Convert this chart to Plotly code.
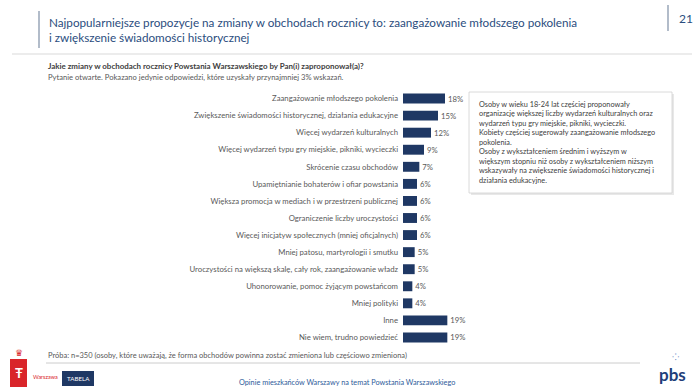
import plotly.graph_objects as go

categories = [
    "Zaangażowanie młodszego pokolenia",
    "Zwiększenie świadomości historycznej, działania edukacyjne",
    "Więcej wydarzeń kulturalnych",
    "Więcej wydarzeń typu gry miejskie, pikniki, wycieczki",
    "Skrócenie czasu obchodów",
    "Upamiętnianie bohaterów i ofiar powstania",
    "Większa promocja w mediach i w przestrzeni publicznej",
    "Ograniczenie liczby uroczystości",
    "Więcej inicjatyw społecznych (mniej oficjalnych)",
    "Mniej patosu, martyrologii i smutku",
    "Uroczystości na większą skalę, cały rok, zaangażowanie władz",
    "Uhonorowanie, pomoc żyjącym powstańcom",
    "Mniej polityki",
    "Inne",
    "Nie wiem, trudno powiedzieć",
]
values = [18, 15, 12, 9, 7, 6, 6, 6, 6, 5, 5, 4, 4, 19, 19]

title_text = ("Najpopularniejsze propozycje na zmiany w obchodach rocznicy to: zaangażowanie młodszego pokolenia"
              "<br>i zwiększenie świadomości historycznej")
question = "Jakie zmiany w obchodach rocznicy Powstania Warszawskiego by Pan(i) zaproponował(a)?"
note = "Pytanie otwarte. Pokazano jedynie odpowiedzi, które uzyskały przynajmniej 3% wskazań."
box_text = ("Osoby w wieku 18-24 lat częściej proponowały<br>"
            "organizację większej liczby wydarzeń kulturalnych oraz<br>"
            "wydarzeń typu gry miejskie, pikniki, wycieczki.<br>"
            "Kobiety częściej sugerowały zaangażowanie młodszego<br>"
            "pokolenia.<br>"
            "Osoby z wykształceniem średnim i wyższym w<br>"
            "większym stopniu niż osoby z wykształceniem niższym<br>"
            "wskazywały na zwiększenie świadomości historycznej i<br>"
            "działania edukacyjne.")
sample = "Próba: n=350 (osoby, które uważają, że forma obchodów powinna zostać zmieniona lub częściowo zmieniona)"
footer = "Opinie mieszkańców Warszawy na temat Powstania Warszawskiego"
page_no = "21"

W_TOT, H_TOT = 700, 391
L, R, T, B = 403, 227, 90, 45
PW = W_TOT - L - R
PH = H_TOT - T - B

def px(x):
    return (x - L) / PW

def py(y):
    return (H_TOT - B - y) / PH

FONT = "Lato, 'Open Sans', sans-serif"
NAVY = "#1f3864"
GRAY = "#595959"
TITLE_C = "#2b4d7e"

fig = go.Figure(go.Bar(
    x=values, y=categories, orientation="h",
    marker=dict(color=NAVY, line=dict(width=0)),
    width=0.58,
    text=[f"{v}%" for v in values], textposition="outside",
    textfont=dict(family=FONT, size=7.8, color=GRAY),
    cliponaxis=False, hoverinfo="skip",
))

fig.update_xaxes(range=[0, 30], visible=False, fixedrange=True)
fig.update_yaxes(autorange="reversed", showgrid=False, showline=False, zeroline=False,
                 ticks="", ticklabelstandoff=4, fixedrange=True,
                 tickfont=dict(family=FONT, size=7.75, color=GRAY))

ann = []
shapes = []

def text(x, y, s, size, color, bold=False, xanchor="left", yanchor="middle", align="left"):
    if bold:
        s = f"<b>{s}</b>"
    ann.append(dict(x=px(x), y=py(y), xref="paper", yref="paper", text=s, showarrow=False,
                    xanchor=xanchor, yanchor=yanchor, align=align,
                    font=dict(family=FONT, size=size, color=color)))

def rect(x0, y0, x1, y1, fill=None, line=None, lw=1):
    shapes.append(dict(type="rect", xref="paper", yref="paper",
                       x0=px(x0), x1=px(x1), y0=py(y0), y1=py(y1),
                       fillcolor=fill if fill else "rgba(0,0,0,0)",
                       line=dict(color=line if line else "rgba(0,0,0,0)", width=lw if line else 0)))

def line(x0, y0, x1, y1, color, w=1):
    shapes.append(dict(type="line", xref="paper", yref="paper",
                       x0=px(x0), x1=px(x1), y0=py(y0), y1=py(y1),
                       line=dict(color=color, width=w)))

# header
line(39, 11, 39, 48, "#7f8fa6", 1.2)
text(47, 29, title_text, 11.7, TITLE_C, yanchor="middle")
line(668, 5, 668, 31, "#7f8fa6", 1.2)
text(677, 18, page_no, 12, TITLE_C)
line(12, 54, 692, 54, "#d9d9d9", 1)
text(46, 66, question, 7.95, "#404040", bold=True)
text(46, 77, note, 7.6, GRAY)

# comment box
rect(471, 94, 674, 195, fill="#e8e8e8")
rect(469, 92, 672, 193, fill="white", line="#d0d0d0", lw=0.8)
text(477, 142.5, box_text, 7.3, "#404040", yanchor="middle")

# footer
text(46, 355, sample, 7.5, GRAY)
line(46, 363, 640, 363, "#bfbfbf", 0.8)
rect(62, 371, 94, 386, fill=NAVY)
text(78, 378.5, "TABELA", 6.2, "white", xanchor="center")
text(347, 382, footer, 7.3, "#2e5b9a", xanchor="center")

# Warszawa logo (simplified)
rect(10, 359, 27, 387, fill="#d9252a")
text(18.5, 373, "<b>Ŧ</b>", 13, "white", xanchor="center")
text(18.5, 352, "♛", 9, "#d9252a", xanchor="center")
text(31, 377, "Warszawa", 5.5, "#d9252a")

# pbs logo (simplified)
text(672, 374, "<b>pbs</b>", 17, "#1f3f7a", xanchor="center")
text(675, 356, "⁘", 9, "#3d6fb6", xanchor="center")

fig.update_layout(
    width=W_TOT, height=H_TOT,
    margin=dict(l=L, r=R, t=T, b=B, pad=0),
    paper_bgcolor="white", plot_bgcolor="white",
    showlegend=False, bargap=0.42,
    annotations=ann, shapes=shapes,
    font=dict(family=FONT),
)

fig.write_html("out.html", config={"displayModeBar": False},
               post_script="document.body.style.margin='0';document.body.style.overflow='hidden';")
